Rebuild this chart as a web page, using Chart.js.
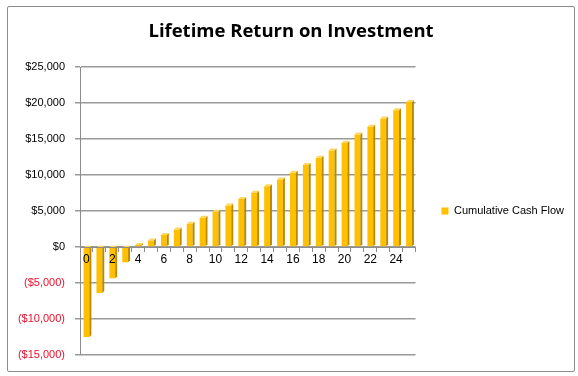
<!DOCTYPE html>
<html>
<head>
<meta charset="utf-8">
<script src="https://cdn.jsdelivr.net/npm/chart.js@4/dist/chart.umd.min.js"></script>
<style>
  html, body { margin: 0; padding: 0; background: #fff; }
  #wrap { position: relative; width: 578px; height: 376px; }
  #frame { position: absolute; left: 7px; top: 6px; width: 566px; height: 364px; border: 1px solid #8c8c8c; border-radius: 2px; pointer-events: none; }
</style>
</head>
<body>
<div id="wrap">
  <canvas id="roi" width="578" height="376"></canvas>
  <div id="frame"></div>
</div>
<script>
// --- datos ---
const years = [0, 1, 2, 3, 4, 5, 6, 7, 8, 9, 10, 11, 12, 13, 14, 15, 16, 17, 18, 19, 20, 21, 22, 23, 24, 25];
const cashFlow = [-12500, -6400, -4350, -2100, 300, 930, 1670, 2460, 3240, 4070, 4900, 5790, 6670,
                  7540, 8470, 9400, 10320, 11390, 12400, 13430, 14490, 15650, 16710, 17870, 19030, 20180];
const yTicks = [-15000, -10000, -5000, 0, 5000, 10000, 15000, 20000, 25000];

const money = v => {
    const s = '$' + Math.abs(v).toLocaleString('en-US');
    return v < 0 ? '(' + s + ')' : s;
};

// caras laterales para el efecto 3D
const bar3d = {
    id: 'bar3d',
    afterDatasetsDraw(chart) {
        const ctx = chart.ctx;
        const d = 2;
        chart.getDatasetMeta(0).data.forEach(bar => {
            const { x, y, base, width } = bar.getProps(['x', 'y', 'base', 'width'], true);
            const r = x + width / 2, l = x - width / 2;
            const top = Math.min(y, base), bot = Math.max(y, base);
            ctx.save();
            ctx.fillStyle = '#b98a00';
            ctx.beginPath();
            ctx.moveTo(r, top); ctx.lineTo(r + d, top - d); ctx.lineTo(r + d, bot - d); ctx.lineTo(r, bot);
            ctx.closePath(); ctx.fill();
            ctx.fillStyle = '#ffd65a';
            ctx.beginPath();
            ctx.moveTo(l, top); ctx.lineTo(l + d, top - d); ctx.lineTo(r + d, top - d); ctx.lineTo(r, top);
            ctx.closePath(); ctx.fill();
            ctx.restore();
        });
    }
};

new Chart(document.getElementById('roi'), {
    type: 'bar',
    data: {
        labels: years,
        datasets: [{
            label: 'Cumulative Cash Flow',
            data: cashFlow,
            backgroundColor: '#ffc000',
            borderWidth: 0,
            categoryPercentage: 1,
            barPercentage: 0.45
        }]
    },
    options: {
        responsive: false,
        animation: false,
        layout: { padding: { left: 8, right: 4, top: 4, bottom: 21 } },
        scales: {
            x: {
                position: { y: 0 },
                grid: { drawOnChartArea: false, drawTicks: true, tickLength: 4, offset: true, color: '#8c8c8c', z: 1 },
                border: { display: true, color: '#8c8c8c', width: 1, z: 1 },
                ticks: {
                    z: 1,
                    autoSkip: false, maxRotation: 0, padding: 1,
                    color: '#000', font: { family: 'Liberation Sans', size: 12 },
                    callback: (v, i) => (i % 2 === 0 ? String(years[i]) : '')
                }
            },
            y: {
                min: -15000, max: 25000,
                afterBuildTicks: s => { s.ticks = yTicks.map(v => ({ value: v })); },
                afterFit: s => { s.width = 72; },
                grid: { color: '#999', lineWidth: 1.5, tickLength: 5 },
                border: { display: true, color: '#8c8c8c' },
                ticks: {
                    padding: 10,
                    font: { family: 'Liberation Sans', size: 11 },
                    color: c => (c.tick.value < 0 ? '#e8102a' : '#000'),
                    callback: v => money(v)
                }
            },
            // hueco entre el área y la leyenda
            gap: {
                axis: 'y', position: 'right', display: true,
                grid: { display: false }, border: { display: false }, ticks: { display: false },
                afterFit: s => { s.width = 16; }
            }
        },
        plugins: {
            title: {
                display: true,
                text: 'Lifetime Return on Investment',
                color: '#000',
                font: { family: 'Open Sans', size: 18.5, weight: 'bold' },
                padding: { top: 17, bottom: 24 }
            },
            legend: {
                position: 'right',
                fullSize: false,
                maxWidth: 220,
                labels: {
                    boxWidth: 7, boxHeight: 7, padding: 10, color: '#000',
                    font: { family: 'Liberation Sans', size: 11 }
                }
            },
            tooltip: { enabled: false }
        }
    },
    plugins: [bar3d]
});
</script>
</body>
</html>
